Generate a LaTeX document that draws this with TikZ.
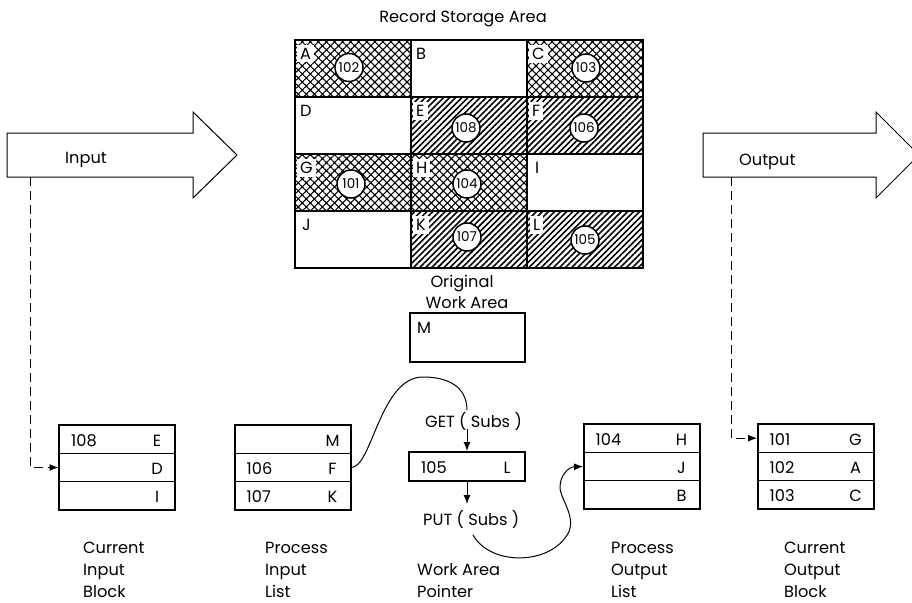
\documentclass[tikz,border=0pt]{standalone}
\usepackage{fontspec}
\setmainfont{Poppins}
\usetikzlibrary{patterns.meta,arrows.meta}
\newcommand\listblock[9]{%
  \node[rowbox] (#1-1) at (#2,{#3-28.33}) {};
  \node[rowbox] (#1-2) at (#2,#3) {};
  \node[rowbox] (#1-3) at (#2,{#3+28.33}) {};
  \node[outbox, minimum height=85pt] (#1) at (#2,#3) {};
  \node[anchor=base west] (#1-n1) at ({#2-46},{#3-28.33+7}) {#4};
  \node[anchor=base] (#1-l1) at ({#2+40},{#3-28.33+7}) {#5};
  \node[anchor=base west] (#1-n2) at ({#2-46},{#3+7}) {#6};
  \node[anchor=base] (#1-l2) at ({#2+40},{#3+7}) {#7};
  \node[anchor=base west] (#1-n3) at ({#2-46},{#3+28.33+7}) {#8};
  \node[anchor=base] (#1-l3) at ({#2+40},{#3+28.33+7}) {#9};
}
\begin{document}
\begin{tikzpicture}[x=1pt,y=-1pt,
  every node/.style={font=\fontsize{16.2}{19}\selectfont, inner sep=0pt},
  cell/.style={draw, line width=2.2pt, minimum width=116pt, minimum height=57pt},
  xh/.style={pattern={Hatch[angle=45,distance=5.7pt,line width=1.1pt]}},
  dl/.style={pattern={Lines[angle=45,distance=4.3pt,line width=1.6pt]}},
  lbl/.style={anchor=base west, fill=white, inner sep=3pt},
  num/.style={circle, draw, fill=white, line width=1.5pt, minimum size=28pt, inner sep=0pt, font=\fontsize{13.5}{13.5}\selectfont},
  rowbox/.style={draw, line width=1pt, minimum width=116pt, minimum height=28.33pt},
  outbox/.style={draw, line width=2pt, minimum width=116pt},
  dashline/.style={line width=1pt, dash pattern=on 9pt off 5pt, -{Latex[length=9pt,width=7pt]}},
  link/.style={line width=1pt},
  arr/.style={line width=1pt, -{Latex[length=9pt,width=7pt]}},
  bigarrow/.style={draw, line width=1pt},
  capt/.style={anchor=base west},
  ]
\useasboundingbox (0,0) rectangle (912,602);
\clip (0,0) rectangle (912,602);

% title
\node[anchor=base] (title) at (463,23) {Record Storage Area};

% grid cells
\node[cell, xh] (cA) at (353,68.5) {};
\node[cell] (cB) at (469,68.5) {};
\node[cell, xh] (cC) at (585,68.5) {};
\node[cell] (cD) at (353,125.5) {};
\node[cell, dl] (cE) at (469,125.5) {};
\node[cell, dl] (cF) at (585,125.5) {};
\node[cell, xh] (cG) at (353,182.5) {};
\node[cell, xh] (cH) at (469,182.5) {};
\node[cell] (cI) at (585,182.5) {};
\node[cell] (cJ) at (353,239.5) {};
\node[cell, dl] (cK) at (469,239.5) {};
\node[cell, dl] (cL) at (585,239.5) {};

% cell letters
\node[lbl] (lA) at (297,59.5) {A};
\node[lbl] (lB) at (413,59.5) {B};
\node[lbl] (lC) at (529,59.5) {C};
\node[lbl] (lD) at (297,116.5) {D};
\node[lbl] (lE) at (413,116.5) {E};
\node[lbl] (lF) at (529,116.5) {F};
\node[lbl] (lG) at (297,173.5) {G};
\node[lbl] (lH) at (413,173.5) {H};
\node[lbl] (lI) at (532,173.5) {I};
\node[lbl] (lJ) at (299,230.5) {J};
\node[lbl] (lK) at (413,230.5) {K};
\node[lbl] (lL) at (530,230.5) {L};

% circled numbers
\node[num] (nA) at (349,67.5) {102};
\node[num] (nC) at (586,68) {103};
\node[num] (nE) at (466,128) {108};
\node[num] (nF) at (584,128) {106};
\node[num] (nG) at (351,184) {101};
\node[num] (nH) at (467,184) {104};
\node[num] (nK) at (467,237) {107};
\node[num] (nL) at (585,240) {105};

% original work area
\node[anchor=base] (orig1) at (462,287) {Original};
\node[anchor=base] (orig2) at (467,308) {Work Area};
\node[draw, line width=2pt, minimum width=115pt, minimum height=49pt] (owa) at (467.5,337.5) {};
\node[anchor=base west] (owaM) at (417,333) {M};

% input arrow
\draw[bigarrow] (7,133) -- (193,133) -- (193,112) -- (237,155) -- (193,198) -- (193,177) -- (7,177) -- cycle;
\node[anchor=base west] (inlbl) at (65,163) {Input};
\coordinate (inbot) at (30,177);

% output arrow
\draw[bigarrow] (703,133) -- (876,133) -- (876,112) -- (919,155) -- (876,198) -- (876,177) -- (703,177) -- cycle;
\node[anchor=base west] (outlbl) at (739,165) {Output};
\coordinate (outbot) at (731,177);

% list blocks
\listblock{cib}{117}{467.5}{108}{E}{}{D}{}{I}
\listblock{pil}{292.5}{467.5}{}{M}{106}{F}{107}{K}
\listblock{pol}{641.5}{466.5}{104}{H}{}{J}{}{B}
\listblock{cob}{815.5}{466.5}{101}{G}{102}{A}{103}{C}

% work area pointer
\node[outbox, minimum height=29pt] (wap) at (467,466.5) {};
\node[anchor=base west] (wapn) at (421,473.5) {105};
\node[anchor=base] (wapl) at (507,473.5) {L};

% GET / PUT
\node[anchor=base west] (get) at (425,427) {GET ( Subs )};
\node[anchor=base west] (put) at (423,525) {PUT ( Subs )};
\coordinate (gettop) at (467,410);
\coordinate (getbot) at (467,429);
\coordinate (puttop) at (467,504);
\coordinate (putbot) at (473,535);

\draw[link] (pil-2.east) .. controls (372,468) and (380,377) .. (423,377) .. controls (455,377) and (467,392) .. (gettop);
\draw[arr] (getbot) -- (wap.north);
\draw[arr] (wap.south) -- (puttop);
\draw[arr] (putbot) .. controls (490,565) and (545,565) .. (565,538) .. controls (580,520) and (560,500) .. (560,487) .. controls (560,476) and (568,467) .. (pol-2.west);

% dashed connectors
\draw[dashline] (inbot) |- (cib-2.west);
\draw[dashline] (outbot) |- (cob-1.west);

% captions
\node[capt] (c1a) at (83,553) {Current};
\node[capt] (c1b) at (83,575) {Input};
\node[capt] (c1c) at (83,597) {Block};
\node[capt] (c2a) at (265,553) {Process};
\node[capt] (c2b) at (265,575) {Input};
\node[capt] (c2c) at (265,597) {List};
\node[capt] (c3a) at (417,575) {Work Area};
\node[capt] (c3b) at (417,597) {Pointer};
\node[capt] (c4a) at (611,553) {Process};
\node[capt] (c4b) at (611,575) {Output};
\node[capt] (c4c) at (611,597) {List};
\node[capt] (c5a) at (784,553) {Current};
\node[capt] (c5b) at (784,575) {Output};
\node[capt] (c5c) at (784,597) {Block};
\end{tikzpicture}
\end{document}
